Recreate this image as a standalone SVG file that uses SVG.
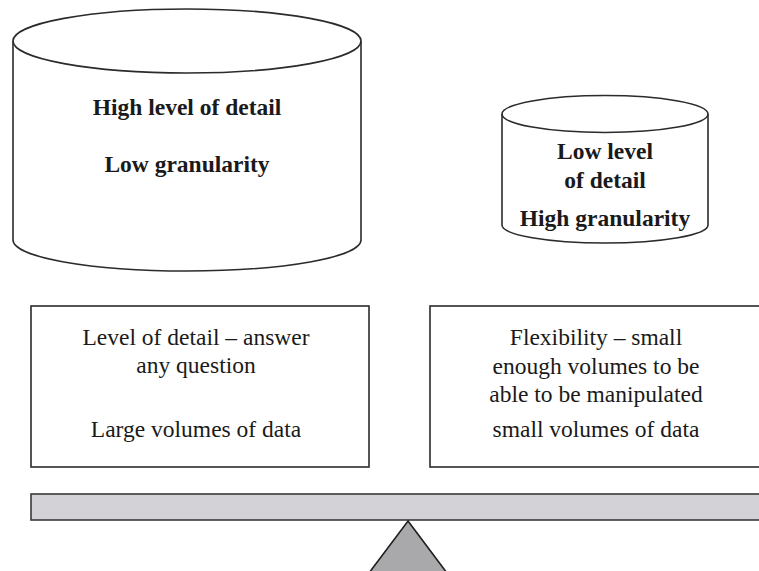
<svg xmlns="http://www.w3.org/2000/svg" width="759" height="571" viewBox="0 0 759 571">
  <style>
    .outline { fill: #ffffff; stroke: #2b2b2b; stroke-width: 1.6; }
    .bold { font-family: "Liberation Serif", "Times New Roman", serif; font-weight: bold; font-size: 23.5px; fill: #1a1a1a; text-anchor: middle; }
    .plain { font-family: "Liberation Serif", "Times New Roman", serif; font-size: 23.5px; fill: #1a1a1a; text-anchor: middle; }
    .beam { fill: #d3d3d7; stroke: #3a3a3a; stroke-width: 1.6; }
    .pivot { fill: #a9a9ac; stroke: #1e1e1e; stroke-width: 1.6; }
  </style>

  <!-- Large data store -->
  <g id="store-detailed">
    <path class="outline" d="M13,41 L13,240 A174,31 0 0 0 361,240 L361,41"/>
    <ellipse class="outline" cx="187" cy="41" rx="174" ry="32"/>
    <text class="bold" x="187" y="115">High level of detail</text>
    <text class="bold" x="187" y="172">Low granularity</text>
  </g>

  <!-- Small data store -->
  <g id="store-summary">
    <path class="outline" d="M502,114 L502,225 A103,18 0 0 0 708,225 L708,114"/>
    <ellipse class="outline" cx="605" cy="114" rx="103" ry="18.5"/>
    <text class="bold" x="605" y="159">Low level</text>
    <text class="bold" x="605" y="188">of detail</text>
    <text class="bold" x="605" y="226">High granularity</text>
  </g>

  <!-- Left description box -->
  <g id="box-detail">
    <rect class="outline" x="31" y="306" width="338" height="161"/>
    <text class="plain" x="196" y="345">Level of detail – answer</text>
    <text class="plain" x="196" y="373">any question</text>
    <text class="plain" x="196" y="437">Large volumes of data</text>
  </g>

  <!-- Right description box -->
  <g id="box-flexibility">
    <rect class="outline" x="430" y="306" width="332" height="161"/>
    <text class="plain" x="596" y="345">Flexibility – small</text>
    <text class="plain" x="596" y="374">enough volumes to be</text>
    <text class="plain" x="596" y="402">able to be manipulated</text>
    <text class="plain" x="596" y="437">small volumes of data</text>
  </g>

  <!-- Balance beam and pivot -->
  <g id="balance">
    <rect class="beam" x="31" y="494" width="732" height="26"/>
    <polygon class="pivot" points="408,521 447,573 369,573"/>
  </g>
</svg>
